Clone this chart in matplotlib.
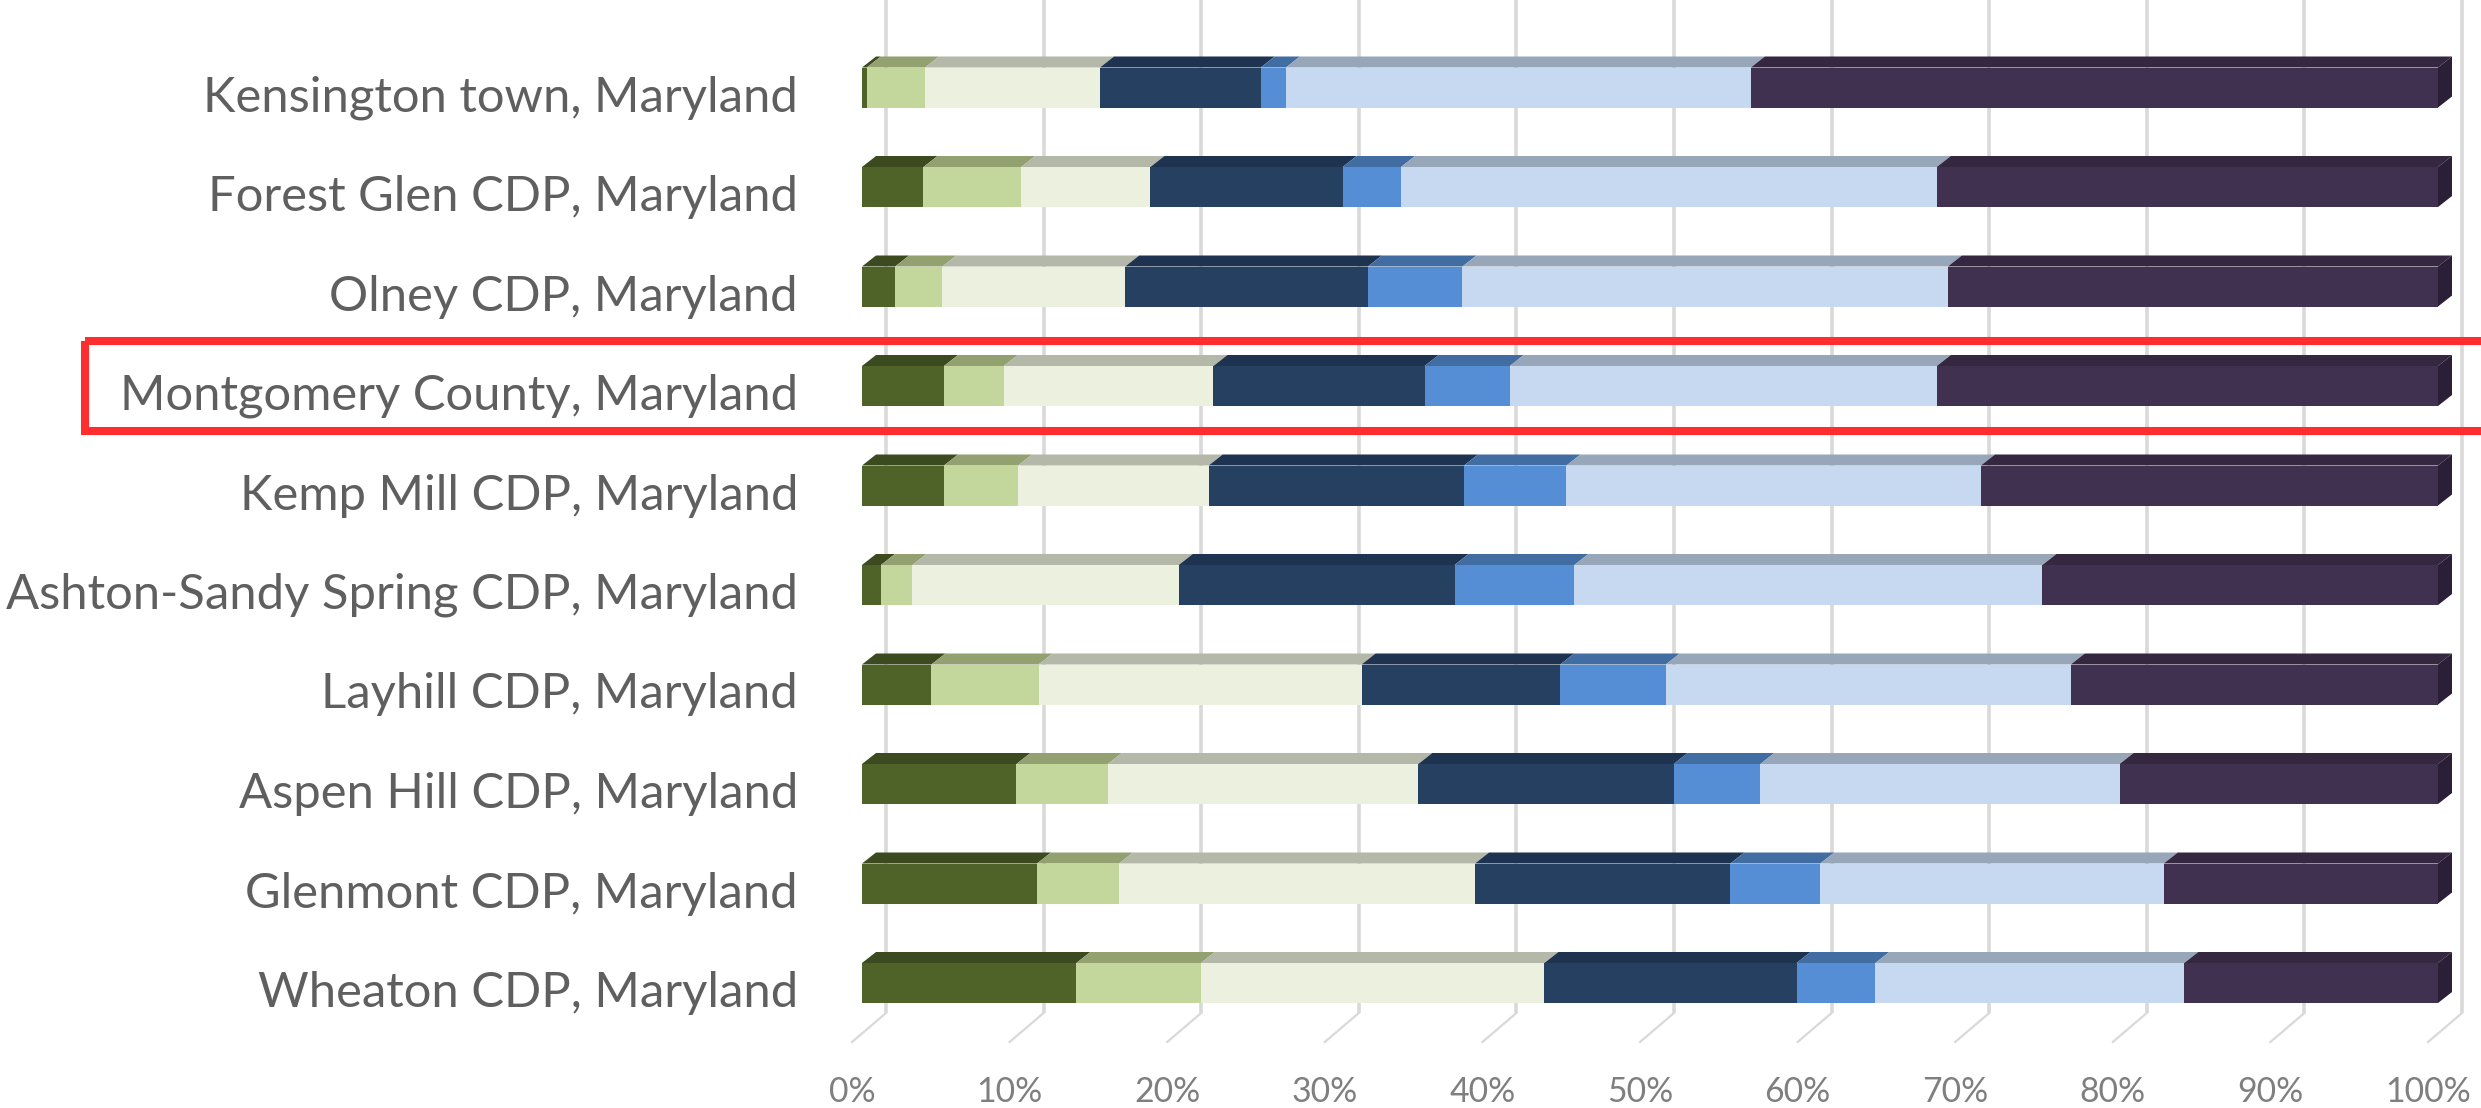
import matplotlib
matplotlib.use('Agg')
import matplotlib.pyplot as plt
from matplotlib.patches import Polygon, Rectangle

categories = ['Kensington town, Maryland',
              'Forest Glen CDP, Maryland',
              'Olney CDP, Maryland',
              'Montgomery County, Maryland',
              'Kemp Mill CDP, Maryland',
              'Ashton-Sandy Spring CDP, Maryland',
              'Layhill CDP, Maryland',
              'Aspen Hill CDP, Maryland',
              'Glenmont CDP, Maryland',
              'Wheaton CDP, Maryland']

# share of each band (%), one list per stacked segment, same order as categories
band_1 = [0.3, 3.9, 2.1, 5.2, 5.2, 1.2, 4.4, 9.8, 11.1, 13.6]
band_2 = [3.7, 6.2, 3.0, 3.8, 4.7, 2.0, 6.8, 5.8, 5.2, 7.9]
band_3 = [11.1, 8.2, 11.6, 13.3, 12.1, 16.9, 20.5, 19.7, 22.6, 21.8]
band_4 = [10.2, 12.2, 15.4, 13.4, 16.2, 17.5, 12.6, 16.2, 16.2, 16.0]
band_5 = [1.6, 3.7, 6.0, 5.4, 6.5, 7.6, 6.7, 5.5, 5.7, 5.0]
band_6 = [29.5, 34.0, 30.8, 27.1, 26.3, 29.7, 25.7, 22.8, 21.8, 19.6]
band_7 = [43.6, 31.8, 31.1, 31.8, 29.0, 25.1, 23.3, 20.2, 17.4, 16.1]

ticks = [0, 10, 20, 30, 40, 50, 60, 70, 80, 90, 100]
highlight = 'Montgomery County, Maryland'

bands = [band_1, band_2, band_3, band_4, band_5, band_6, band_7]
front_colors = ['#4f6228', '#c3d69b', '#ebf1de', '#254061', '#558ed5', '#c6d9f1', '#403151']
top_colors = ['#3c4a1f', '#93a070', '#b4b8a8', '#1d3350', '#416da2', '#97a6b8', '#34273f']
side_color = '#2a1f36'
FONT = ['Lato', 'DejaVu Sans']

# pixel geometry of the picture
W, H = 2481, 1108
x0_px, px_per_pct = 862, 15.76
y0_px, px_per_row = 87.5, 99.5

fig = plt.figure(figsize=(W / 100, H / 100), dpi=100)
ax = fig.add_axes([0, 0, 1, 1])
ax.set_xlim(-x0_px / px_per_pct, (W - x0_px) / px_per_pct)
ax.set_ylim((H - y0_px) / px_per_row, -y0_px / px_per_row)
ax.axis('off')
renderer = fig.canvas.get_renderer()


def fit_size(txt, target_px):
    # scale the font so the text is as wide as in the reference
    w = txt.get_window_extent(renderer).width
    txt.set_fontsize(txt.get_fontsize() * target_px / w)


bar_h = 40 / px_per_row
dx = 14 / px_per_pct
dy = 11 / px_per_row

# back wall gridlines and the floor diagonals
grid_dx = 24 / px_per_pct
grid_bottom = (1013 - y0_px) / px_per_row
floor_front = (1042 - y0_px) / px_per_row
floor_dx = 34 / px_per_pct
tick_texts = []
for t in ticks:
    gx = t + grid_dx
    ax.plot([gx, gx], [-y0_px / px_per_row, grid_bottom], color='#d9d9d9', lw=2.6,
            solid_capstyle='butt', zorder=1)
    ax.plot([gx, gx - floor_dx], [grid_bottom, floor_front], color='#d9d9d9', lw=1.6, zorder=1)
    tick_texts.append(ax.text(t + grid_dx - floor_dx, (1092 - y0_px) / px_per_row, f'{t}%',
                              ha='center', va='center', fontsize=20, color='#7f7f7f', family=FONT))
fit_size(tick_texts[-1], 86)
for txt in tick_texts:
    txt.set_fontsize(tick_texts[-1].get_fontsize())

cat_texts = []
for i, cat in enumerate(categories):
    left = 0
    yt = i - bar_h / 2
    for k, vals in enumerate(bands):
        v = vals[i]
        ax.barh(i, v, left=left, height=bar_h, color=front_colors[k], zorder=3)
        ax.add_patch(Polygon([(left, yt), (left + v, yt), (left + v + dx, yt - dy), (left + dx, yt - dy)],
                             closed=True, facecolor=top_colors[k], edgecolor='none', zorder=2))
        left += v
    ax.add_patch(Polygon([(left, yt), (left + dx, yt - dy), (left + dx, yt + bar_h - dy), (left, yt + bar_h)],
                         closed=True, facecolor=side_color, edgecolor='none', zorder=2))
    cat_texts.append(ax.text((798 - x0_px) / px_per_pct, i + 10 / px_per_row, cat, ha='right',
                             va='center', fontsize=30, color='#5f5f5f', family=FONT))
fit_size(cat_texts[0], 595)
for txt in cat_texts:
    txt.set_fontsize(cat_texts[0].get_fontsize())

# red frame round the county row
hi = categories.index(highlight)
ax.add_patch(Rectangle(((85.5 - x0_px) / px_per_pct, hi - 0.452), 200, 0.904,
                       fill=False, edgecolor='#ff2d2d', lw=5.8, zorder=5, clip_on=False))

fig.savefig('out.png', dpi=100, facecolor='white')
